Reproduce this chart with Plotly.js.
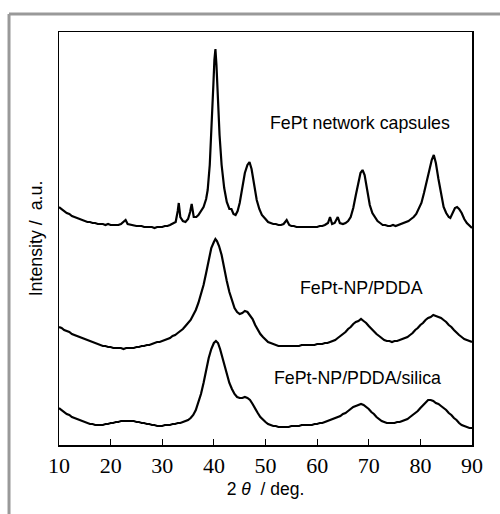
<!DOCTYPE html>
<html>
<head>
<meta charset="utf-8">
<script src="https://cdn.plot.ly/plotly-3.0.1.min.js"></script>
<style>html,body{margin:0;padding:0;background:#fff;}#chart{width:500px;height:514px;}</style>
</head>
<body>
<div id="chart"></div>
<script>
// 2theta (deg) and intensity (a.u., curves already stacked as in the figure)
const xCapsules = [10,10.5,11,11.5,12,12.5,13,13.5,14,14.5,15,15.5,16,16.5,17,17.5,18,18.5,19,19.5,20,20.5,21,21.5,22,22.5,22.9,23.3,24,24.5,25,25.5,26,26.5,27,27.5,28,28.5,29,29.5,30,30.5,31,31.5,32,32.6,33.0,33.2,33.5,34,34.5,35,35.4,35.7,36.1,36.6,37,37.5,38,38.5,38.8,39.2,39.6,39.9,40.1,40.3,40.5,40.8,41.1,41.5,42,42.5,43,43.4,43.8,44.2,44.6,45,45.5,46,46.5,46.9,47.3,47.8,48.3,48.8,49.3,50,50.5,51,51.5,52,52.5,53,53.5,54.1,54.6,55,55.5,56,56.5,57,57.5,58,58.5,59,59.5,60,60.5,61,61.5,62.1,62.5,62.9,63.4,64,64.4,65,65.5,66,66.5,67,67.5,68,68.4,68.8,69.2,69.7,70.2,70.7,71.2,71.7,72.2,72.7,73.2,73.7,74.2,74.7,75.2,75.7,76.2,76.7,77.2,77.7,78.2,78.7,79.2,79.7,80.2,80.7,81.2,81.7,82.2,82.6,83.0,83.5,84,84.5,85,85.5,85.8,86.2,86.7,87.1,87.5,88,88.5,89,89.5,90];
const yCapsules = [238,236,234,232,231,229,228,227,226,225,224,223,223,222,222,221,221,221,220,221,220,220,220,220,221,223,225,221,220,220,219,219,219,218,218,218,218,217,218,218,218,219,219,220,221,223,234,242,228,224,223,226,233,241,228,228,230,234,238,246,255,280,320,360,385,396,380,345,310,280,257,243,236,236,231,230,234,242,257,272,280,283,276,260,245,236,230,226,223,222,221,221,220,220,221,225,220,219,219,218,218,218,218,218,218,218,218,218,219,219,220,222,228,221,222,228,222,221,222,224,228,237,250,264,272,275,270,255,240,232,228,224,222,220,220,219,219,220,219,220,221,222,223,224,226,228,231,236,242,252,262,275,285,290,282,266,250,238,232,228,227,232,237,238,236,232,226,222,219,217];

const xPDDA = [10,10.5,11,11.5,12,12.5,13,13.5,14,14.5,15,15.5,16,16.5,17,17.5,18,18.5,19,19.5,20,20.5,21,21.5,22,22.5,23,23.5,24,24.5,25,25.5,26,26.5,27,27.5,28,28.5,29,29.5,30,30.5,31,31.5,32,32.5,33,33.5,34,34.5,35,35.5,36,36.5,37,37.5,38,38.5,39,39.5,40,40.3,40.6,41,41.5,42,42.5,43,43.5,44,44.5,45,45.5,46,46.5,47,47.5,48,48.5,49,49.5,50,50.5,51,51.5,52,52.5,53,53.5,54,54.5,55,55.5,56,56.5,57,57.5,58,58.5,59,59.5,60,60.5,61,61.5,62,62.5,63,63.5,64,64.5,65,65.5,66,66.5,67,67.5,68,68.5,69,69.5,70,70.5,71,71.5,72,72.5,73,73.5,74,74.5,75,75.5,76,76.5,77,77.5,78,78.5,79,79.5,80,80.5,81,81.5,82,82.5,83,83.5,84,84.5,85,85.5,86,86.5,87,87.5,88,88.5,89,89.5,90];
const yPDDA = [118,117,115,114,113,111,110,109,108,107,106,105,104,103,102,101,100,99,99,98,98,97,97,97,97,96,97,97,97,97,98,98,99,99,100,100,101,102,103,103,104,105,106,107,109,110,112,114,116,119,122,125,130,135,142,150,160,172,185,197,203,206,204,199,190,176,164,153,144,137,133,131,132,134,133,130,126,120,115,111,108,105,103,102,101,100,99,99,99,99,99,99,99,99,99,100,100,100,100,100,100,101,101,101,102,102,103,104,105,107,109,111,113,116,118,121,123,124,126,124,122,119,116,114,111,109,107,105,104,104,103,104,104,105,106,107,108,110,112,115,117,120,122,125,127,128,130,129,128,127,125,123,120,118,115,112,110,108,106,105,104,103];

const xSilica = [10,10.5,11,11.5,12,12.5,13,13.5,14,14.5,15,15.5,16,16.5,17,17.5,18,18.5,19,19.5,20,20.5,21,21.5,22,22.5,23,23.5,24,24.5,25,25.5,26,26.5,27,27.5,28,28.5,29,29.5,30,30.5,31,31.5,32,32.5,33,33.5,34,34.5,35,35.5,36,36.5,37,37.5,38,38.5,39,39.5,40,40.4,40.8,41.2,41.6,42,42.5,43,43.5,44,44.5,45,45.5,46,46.5,47,47.5,48,48.5,49,49.5,50,50.5,51,51.5,52,52.5,53,53.5,54,54.5,55,55.5,56,56.5,57,57.5,58,58.5,59,59.5,60,60.5,61,61.5,62,62.5,63,63.5,64,64.5,65,65.5,66,66.5,67,67.5,68,68.5,69,69.5,70,70.5,71,71.5,72,72.5,73,73.5,74,74.5,75,75.5,76,76.5,77,77.5,78,78.5,79,79.5,80,80.5,81,81.5,82,82.5,83,83.5,84,84.5,85,85.5,86,86.5,87,87.5,88,88.5,89,89.5,90];
const ySilica = [37,35,33,31,30,28,27,26,25,24,23,22,21,21,20,20,20,20,21,21,22,22,23,23,24,24,24,24,24,24,23,23,22,22,21,21,20,20,19,19,19,20,20,20,21,21,22,22,23,24,25,27,30,35,42,51,62,75,87,96,102,104,102,96,88,80,70,62,56,51,48,47,47,48,47,45,41,36,32,28,25,23,21,20,19,19,18,18,18,18,18,19,19,19,19,20,20,20,20,20,21,21,22,22,23,24,25,26,27,28,29,31,32,34,36,38,39,40,41,40,38,36,33,31,28,26,24,23,22,22,22,22,23,23,24,25,26,28,30,32,34,37,40,43,45,45,44,42,41,39,37,35,32,30,27,25,22,20,19,18,17,17];

const seriesNames = ["FePt network capsules", "FePt-NP/PDDA", "FePt-NP/PDDA/silica"];
const tickVals = [10,20,30,40,50,60,70,80,90];
const tickText = ["10","20","30","40","50","60","70","80","90"];

const lineStyle = {color: "#000000", width: 2.2};
const traces = [
  {x: xCapsules, y: yCapsules, name: seriesNames[0], mode: "lines", line: lineStyle},
  {x: xPDDA, y: yPDDA, name: seriesNames[1], mode: "lines", line: lineStyle},
  {x: xSilica, y: ySilica, name: seriesNames[2], mode: "lines", line: lineStyle}
];

const sans = "Liberation Sans, Arial, sans-serif";
const annFont = {family: sans, size: 17.8, color: "#000"};
const layout = {
  width: 500, height: 514,
  margin: {l: 59, r: 28, t: 32, b: 69, pad: 0},
  paper_bgcolor: "#ffffff", plot_bgcolor: "#ffffff",
  showlegend: false,
  xaxis: {
    range: [10, 90], tickmode: "array", tickvals: tickVals, ticktext: tickText,
    ticks: "inside", ticklen: 6, tickwidth: 1.2, tickcolor: "#000",
    showline: true, linecolor: "#000", linewidth: 1.5, mirror: true,
    showgrid: false, zeroline: false,
    tickfont: {family: "Liberation Serif, Times New Roman, serif", size: 22, color: "#000"},
    title: {text: "2 <i>θ</i>  / deg.", font: {family: sans, size: 17.5, color: "#000"}, standoff: 6}
  },
  yaxis: {
    range: [0, 413], showticklabels: false, ticks: "",
    showline: true, linecolor: "#000", linewidth: 1.5, mirror: true,
    showgrid: false, zeroline: false,
    title: {text: "Intensity /  a.u.", font: {family: sans, size: 17.8, color: "#000"}, standoff: 10}
  },
  annotations: [
    {x: 68.3, y: 322, xref: "x", yref: "y", text: seriesNames[0], showarrow: false, font: annFont},
    {x: 68.6, y: 157.5, xref: "x", yref: "y", text: seriesNames[1], showarrow: false, font: annFont},
    {x: 67.9, y: 66.7, xref: "x", yref: "y", text: seriesNames[2], showarrow: false, font: annFont}
  ],
  shapes: [
    {type: "line", xref: "paper", yref: "paper", x0: -0.121, x1: 1.1, y0: 1.0436, y1: 1.0436, line: {color: "#999999", width: 3}},
    {type: "line", xref: "paper", yref: "paper", x0: -0.121, x1: -0.121, y0: 1.0436, y1: -0.2, line: {color: "#999999", width: 3}}
  ]
};

Plotly.newPlot("chart", traces, layout, {displayModeBar: false, staticPlot: true});
</script>
</body>
</html>
